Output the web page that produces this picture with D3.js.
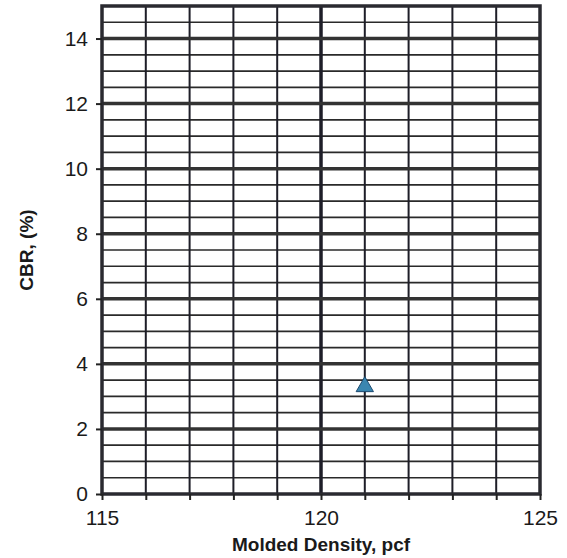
<!DOCTYPE html>
<html>
<head>
<meta charset="utf-8">
<script src="https://cdn.jsdelivr.net/npm/d3@7"></script>
<style>
  body { margin: 0; background: #fff; }
  text { font-family: "Liberation Sans", Arial, sans-serif; fill: #1a1a1a; }
</style>
</head>
<body>
<svg id="chart" width="567" height="558"></svg>
<script>
// data
const density = [121];
const cbr = [3.3];
const xTicks = [115, 120, 125];
const yTicks = [0, 2, 4, 6, 8, 10, 12, 14];

const margin = {top: 6, right: 27, bottom: 64, left: 102};
const width = 567 - margin.left - margin.right;
const height = 558 - margin.top - margin.bottom;

const svg = d3.select("#chart");
const g = svg.append("g").attr("transform", `translate(${margin.left},${margin.top})`);

const x = d3.scaleLinear().domain([115, 125]).range([0, width]);
const y = d3.scaleLinear().domain([0, 15]).range([height, 0]);

// minor horizontal grid every 0.5
g.append("g").selectAll("line")
    .data(d3.range(0.5, 15, 0.5).filter(v => v % 2 !== 0))
    .join("line")
    .attr("x1", 0).attr("x2", width)
    .attr("y1", d => y(d)).attr("y2", d => y(d))
    .attr("stroke", "#2a2a2a").attr("stroke-width", 1.7);

// vertical grid every 1
g.append("g").selectAll("line")
    .data(d3.range(116, 125, 1))
    .join("line")
    .attr("x1", d => x(d)).attr("x2", d => x(d))
    .attr("y1", 0).attr("y2", height)
    .attr("stroke", "#1e1e28")
    .attr("stroke-width", d => d === 120 ? 3.5 : 2);

// major horizontal grid every 2
g.append("g").selectAll("line")
    .data(yTicks.filter(v => v > 0))
    .join("line")
    .attr("x1", 0).attr("x2", width)
    .attr("y1", d => y(d)).attr("y2", d => y(d))
    .attr("stroke", "#333").attr("stroke-width", 3.5);

// frame
g.append("rect")
    .attr("x", 0).attr("y", 0).attr("width", width).attr("height", height)
    .attr("fill", "none").attr("stroke", "#2a2a30").attr("stroke-width", 3.5);

// x axis
const xAxis = g.append("g")
    .attr("transform", `translate(0,${height})`)
    .call(d3.axisBottom(x).tickValues(d3.range(115, 126, 1)).tickSize(6)
        .tickFormat(d => xTicks.includes(d) ? d : ""));
xAxis.select(".domain").remove();
xAxis.selectAll("line").attr("stroke", "#222").attr("stroke-width", 2);
xAxis.selectAll("text").attr("font-size", 21).attr("dy", "1.05em");

// y axis
const yAxis = g.append("g")
    .call(d3.axisLeft(y).tickValues(yTicks).tickSize(6));
yAxis.select(".domain").remove();
yAxis.selectAll("line").attr("stroke", "#222").attr("stroke-width", 2);
yAxis.selectAll("text").attr("font-size", 21).attr("x", -14);

// axis titles
svg.append("text")
    .attr("x", margin.left + width / 2).attr("y", 551)
    .attr("text-anchor", "middle")
    .attr("font-size", 19).attr("font-weight", "bold")
    .text("Molded Density, pcf");

svg.append("text")
    .attr("transform", `translate(33,${margin.top + height / 2}) rotate(-90)`)
    .attr("text-anchor", "middle")
    .attr("font-size", 19).attr("font-weight", "bold")
    .text("CBR, (%)");

// points
g.append("g").selectAll("path")
    .data(density.map((d, i) => [d, cbr[i]]))
    .join("path")
    .attr("d", d3.symbol(d3.symbolTriangle, 130))
    .attr("transform", d => `translate(${x(d[0])},${y(d[1])})`)
    .attr("fill", "#3a86b0")
    .attr("stroke", "#1b4a70").attr("stroke-width", 1);
</script>
</body>
</html>
